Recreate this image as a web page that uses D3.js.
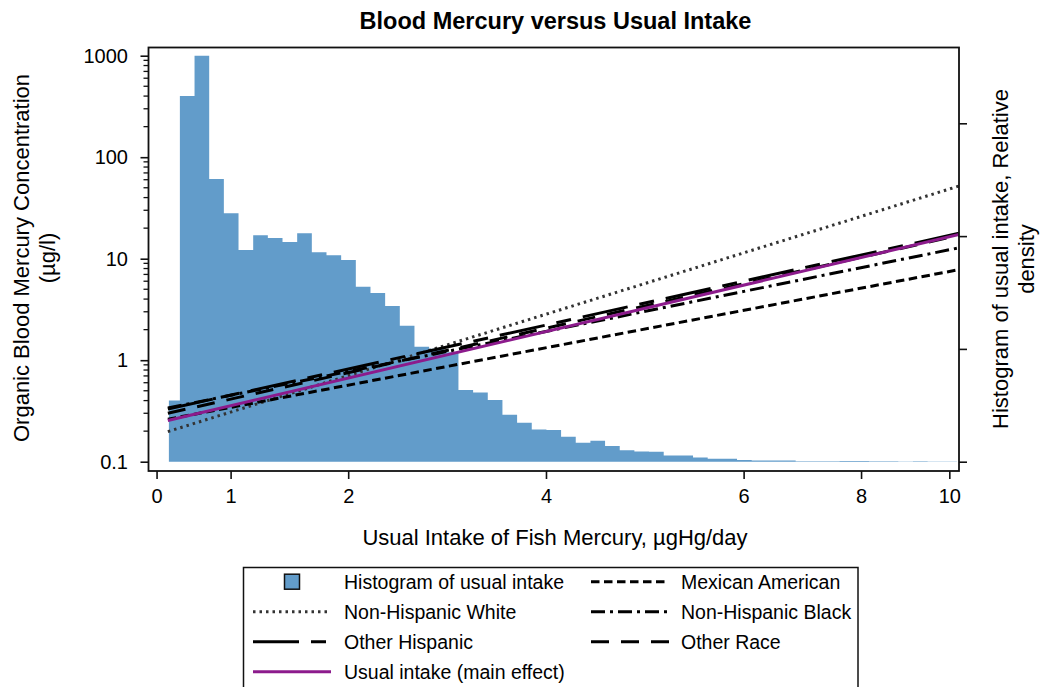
<!DOCTYPE html>
<html>
<head>
<meta charset="utf-8">
<script src="https://cdn.jsdelivr.net/npm/d3@7"></script>
<style>
  body { margin: 0; background: #fff; }
  text { font-family: "Liberation Sans", Arial, sans-serif; fill: #000; }
</style>
</head>
<body>
<svg id="chart" width="1041" height="687"></svg>
<script>
// ---- Data ---------------------------------------------------------------
// Intake is modelled on a transformed scale; labels sit at their transformed positions.
const intakeTickLabels = [0, 1, 2, 4, 6, 8, 10];
const intakeTickScaled = [0, 5.05, 13.07, 26.56, 40.04, 48.05, 54.07];
const scaledDomain = [-0.55, 54.73];

// Histogram of usual intake: unit-width bins on the transformed scale,
// heights expressed on the concentration axis.
const histMin = 0.84;      // lowest observed (scaled) intake
const histOrigin = 0.59;   // bin boundary origin
const histValues = [
  0.40, 400, 1000, 61, 28, 12.2, 17.0, 16.0, 14.6, 17.8,
  11.6, 10.8, 9.7, 5.3, 4.6, 3.42, 2.19, 1.36, 1.3, 1.2,
  0.51, 0.48, 0.405, 0.29, 0.242, 0.208, 0.205, 0.176, 0.154, 0.161,
  0.143, 0.130, 0.126, 0.125, 0.115, 0.115, 0.110, 0.107, 0.107, 0.104,
  0.103, 0.1025, 0.1025, 0.101, 0.101, 0.1012, 0.1015, 0.1015, 0.1008, 0.1008,
  0.1005, 0.101, 0.1005, 0.1005
];

const concTicks = [0.1, 1, 10, 100, 1000];
const densityTicks = [0, 1, 2, 3];

// Fitted log-linear models: concentration at the low and high end of the fit range
const fitRange = [0.77, 54.73];
const seriesNames = ["Mexican American", "Non-Hispanic White", "Non-Hispanic Black",
                     "Other Hispanic", "Other Race", "Usual intake (main effect)"];
const seriesLow  = [0.262, 0.198, 0.338, 0.33, 0.30, 0.255];
const seriesHigh = [7.8,   52,    12.8,  17.8, 17.0, 17.3];

// ---- Styles -------------------------------------------------------------
const lineStyle = {
  "Mexican American":           { color: "#000", dash: "8.5,4.5" },
  "Non-Hispanic White":         { color: "#333", dash: "2.5,4" },
  "Non-Hispanic Black":         { color: "#000", dash: "14,5,3,5" },
  "Other Hispanic":             { color: "#000", dash: "46,12,15,12" },
  "Other Race":                 { color: "#000", dash: "18,12" },
  "Usual intake (main effect)": { color: "#8c1b8c", dash: null }
};
const histColor = "#629cca";

// ---- Layout -------------------------------------------------------------
const svg = d3.select("#chart");
const plot = { left: 148.5, right: 959, top: 47.5, bottom: 471 };

const x = d3.scaleLinear().domain(scaledDomain).range([plot.left, plot.right]);
const y = d3.scaleLog().domain([0.1, 1000]).range([461.7, 55.7]);
const yDensity = d3.scaleLinear().domain([0, 1]).range([461.7, 348.9]);

svg.append("defs").append("clipPath").attr("id", "plotClip")
  .append("rect")
  .attr("x", plot.left).attr("y", plot.top)
  .attr("width", plot.right - plot.left).attr("height", plot.bottom - plot.top);

const inner = svg.append("g").attr("clip-path", "url(#plotClip)");

// Histogram drawn as one stepped outline so adjacent bars join seamlessly
const steps = histValues.map((v, i) => [i === 0 ? histMin : histOrigin + i, v]);
steps.push([histOrigin + histValues.length, histValues[histValues.length - 1]]);
const histArea = d3.area()
  .curve(d3.curveStepAfter)
  .x(d => x(d[0]))
  .y0(y(0.1))
  .y1(d => y(d[1]));
inner.append("path")
  .datum(steps)
  .attr("d", histArea)
  .attr("fill", histColor);

// Fitted lines (straight on the transformed-intake / log-concentration plane)
const line = d3.line().x(d => x(d[0])).y(d => y(d[1]));
const drawOrder = [1, 0, 2, 4, 3, 5];
drawOrder.forEach(i => {
  const name = seriesNames[i];
  const st = lineStyle[name];
  inner.append("path")
    .datum([[fitRange[0], seriesLow[i]], [fitRange[1], seriesHigh[i]]])
    .attr("d", line)
    .attr("fill", "none")
    .attr("stroke", st.color)
    .attr("stroke-width", 3)
    .attr("stroke-dasharray", st.dash);
});

// Frame
svg.append("rect")
  .attr("x", plot.left).attr("y", plot.top)
  .attr("width", plot.right - plot.left).attr("height", plot.bottom - plot.top)
  .attr("fill", "none").attr("stroke", "#111").attr("stroke-width", 1.8);

// Bottom axis
const xAxis = d3.axisBottom(x)
  .tickValues(intakeTickScaled)
  .tickFormat((d, i) => intakeTickLabels[i])
  .tickSize(8).tickSizeOuter(0).tickPadding(10);
const gx = svg.append("g").attr("transform", `translate(0,${plot.bottom})`).call(xAxis);
gx.select(".domain").remove();
gx.selectAll("line").attr("stroke", "#111").attr("stroke-width", 1.6);
gx.selectAll("text").attr("font-size", 20).attr("font-family", "Liberation Sans, Arial, sans-serif");

// Left log axis with minor ticks
const yAxis = d3.axisLeft(y).tickValues(concTicks).tickFormat(d => String(d))
  .tickSize(8).tickSizeOuter(0).tickPadding(12.5);
const gy = svg.append("g").attr("transform", `translate(${plot.left},0)`).call(yAxis);
gy.select(".domain").remove();
gy.selectAll("line").attr("stroke", "#111").attr("stroke-width", 1.6);
gy.selectAll("text").attr("font-size", 20).attr("font-family", "Liberation Sans, Arial, sans-serif");

const minor = [];
[0.1, 1, 10, 100].forEach(dec => { for (let m = 2; m <= 9; m++) minor.push(dec * m); });
svg.append("g").selectAll("line").data(minor).join("line")
  .attr("x1", plot.left - 5).attr("x2", plot.left)
  .attr("y1", d => y(d)).attr("y2", d => y(d))
  .attr("stroke", "#111").attr("stroke-width", 1.3);

// Right density axis (unlabelled)
const yrAxis = d3.axisRight(yDensity).tickValues(densityTicks).tickFormat("")
  .tickSize(8).tickSizeOuter(0);
const gyr = svg.append("g").attr("transform", `translate(${plot.right},0)`).call(yrAxis);
gyr.select(".domain").remove();
gyr.selectAll("line").attr("stroke", "#111").attr("stroke-width", 1.6);

// Titles
svg.append("text").attr("x", 555.5).attr("y", 28.5)
  .attr("text-anchor", "middle").attr("font-size", 23.5).attr("font-weight", "bold")
  .text("Blood Mercury versus Usual Intake");

svg.append("text").attr("x", 555).attr("y", 545)
  .attr("text-anchor", "middle").attr("font-size", 22)
  .text("Usual Intake of Fish Mercury, \u00b5gHg/day");

const yl = svg.append("text").attr("transform", "translate(0,258) rotate(-90)")
  .attr("text-anchor", "middle").attr("font-size", 22);
yl.append("tspan").attr("x", 0).attr("y", 28.5).text("Organic Blood Mercury Concentration");
yl.append("tspan").attr("x", 0).attr("y", 54.5).text("(\u00b5g/l)");

const yr = svg.append("text").attr("transform", "translate(0,259) rotate(-90)")
  .attr("text-anchor", "middle").attr("font-size", 22);
yr.append("tspan").attr("x", 0).attr("y", 1008).text("Histogram of usual intake, Relative");
yr.append("tspan").attr("x", 0).attr("y", 1034).text("density");

// Legend
const legend = svg.append("g");
legend.append("rect").attr("x", 243.5).attr("y", 567.5)
  .attr("width", 614.5).attr("height", 130)
  .attr("fill", "#fff").attr("stroke", "#111").attr("stroke-width", 1.5);

const legendItems = [
  { label: "Histogram of usual intake", col: 0, row: 0, hist: true },
  { label: "Mexican American", col: 1, row: 0 },
  { label: "Non-Hispanic White", col: 0, row: 1 },
  { label: "Non-Hispanic Black", col: 1, row: 1 },
  { label: "Other Hispanic", col: 0, row: 2 },
  { label: "Other Race", col: 1, row: 2 },
  { label: "Usual intake (main effect)", col: 0, row: 3 }
];
const colSwatch = [253, 591];
const colText = [344, 681];
const swatchLen = 78;
const rowY = r => 581.7 + r * 30;

legendItems.forEach(it => {
  const cy = rowY(it.row);
  const sx = colSwatch[it.col];
  if (it.hist) {
    legend.append("rect")
      .attr("x", sx + swatchLen / 2 - 7.5).attr("y", cy - 7.5)
      .attr("width", 15).attr("height", 15)
      .attr("fill", histColor).attr("stroke", "#111").attr("stroke-width", 1.5);
  } else {
    const st = lineStyle[it.label];
    legend.append("line")
      .attr("x1", sx).attr("x2", sx + swatchLen)
      .attr("y1", cy).attr("y2", cy)
      .attr("stroke", st.color).attr("stroke-width", 3)
      .attr("stroke-dasharray", st.dash);
  }
  legend.append("text").attr("x", colText[it.col]).attr("y", cy + 7)
    .attr("font-size", 19.5).text(it.label);
});
</script>
</body>
</html>
